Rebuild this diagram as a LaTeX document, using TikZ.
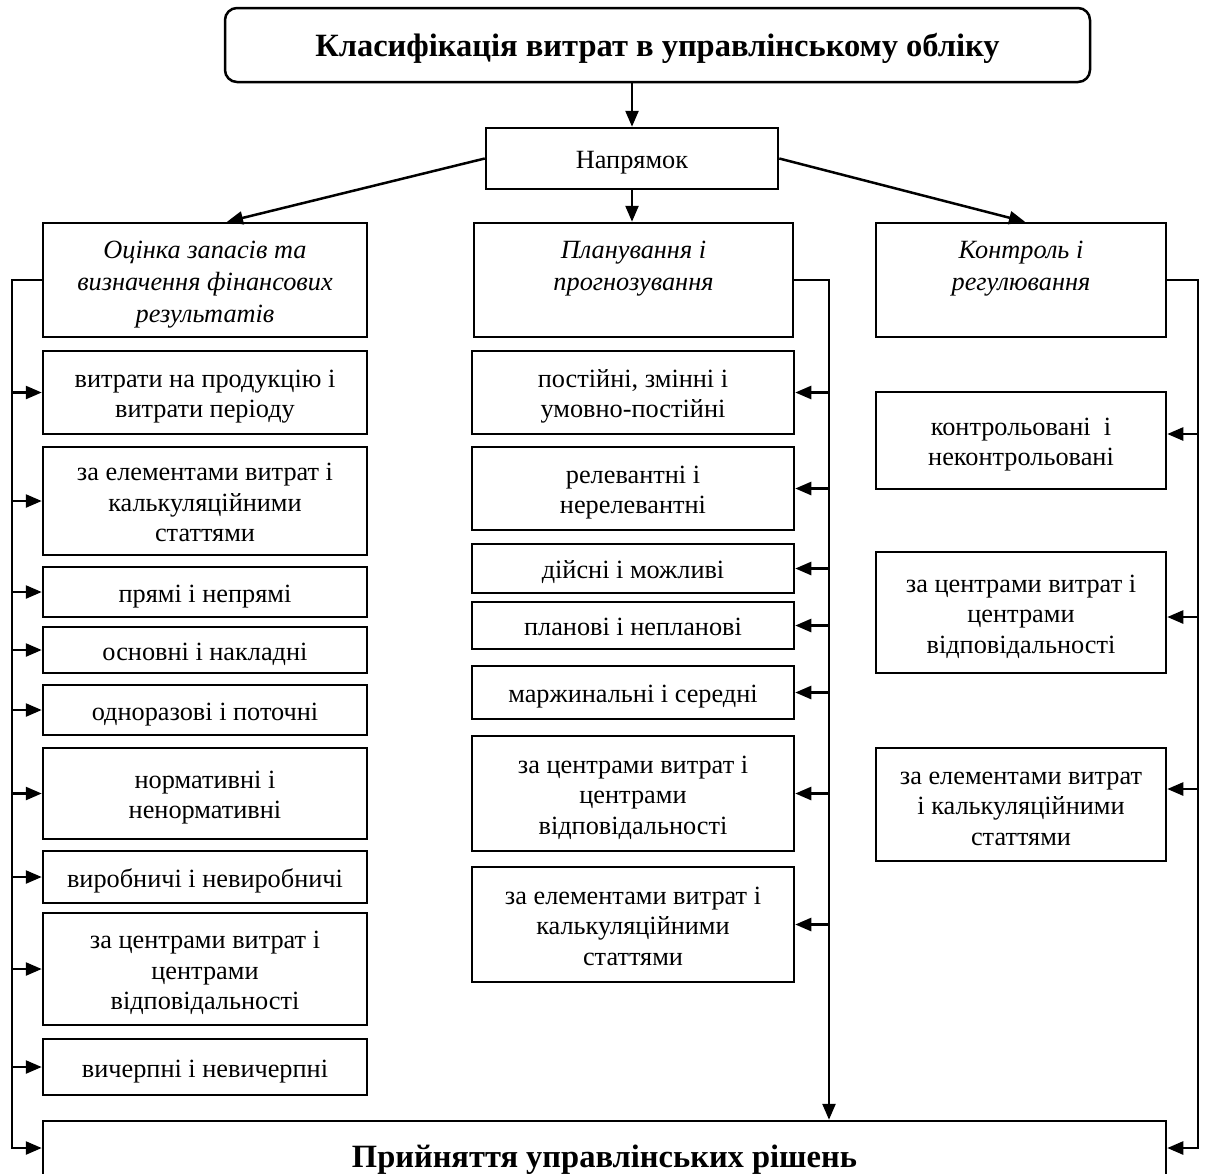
\documentclass[tikz,border=0pt]{standalone}
\usepackage{fontspec}
\setmainfont{Liberation Serif}
\usetikzlibrary{arrows.meta,calc}
\newcommand\boxtext[1]{\raisebox{0pt}[\dimexpr\height+8pt\relax][\depth]{\begin{tabular}{@{}c@{}}#1\end{tabular}}}
\begin{document}
\begin{tikzpicture}[x=1pt,y=-1pt,
  box/.style={draw, line width=2.5pt, rectangle, inner sep=0pt,
    font=\fontsize{26.3}{30.5}\selectfont},
  hbox/.style={box, font=\fontsize{26.3}{32}\selectfont\itshape},
  bigbox/.style={box, font=\fontsize{32.5}{38}\selectfont\bfseries},
  arr/.style={line width=2.5pt, -{Triangle[length=16pt,width=13pt]}}]
\useasboundingbox (0,0) rectangle (1209,1173);

% top
\node[bigbox, rounded corners=12pt, minimum width=865pt, minimum height=74pt] (top) at (657.5,45) {\boxtext{Класифікація витрат в управлінському обліку}};
\node[box, minimum width=292pt, minimum height=61pt] (nap) at (632,158.5) {\boxtext{Напрямок}};

% headers
\node[hbox, minimum width=324pt, minimum height=114pt] (h1) at (205,280) {\boxtext{Оцінка запасів та\\визначення фінансових\\результатів}};
\node[hbox, minimum width=319pt, minimum height=114pt] (h2) at (633.5,280) {\boxtext{Планування і\\прогнозування\\\mbox{}}};
\node[hbox, minimum width=290pt, minimum height=114pt] (h3) at (1021,280) {\boxtext{Контроль і\\регулювання\\\mbox{}}};

% left column
\node[box, minimum width=324pt, minimum height=83pt] (l1) at (205,392.5) {\boxtext{витрати на продукцію і\\витрати періоду}};
\node[box, minimum width=324pt, minimum height=108pt] (l2) at (205,501) {\boxtext{за елементами витрат і\\калькуляційними\\статтями}};
\node[box, minimum width=324pt, minimum height=50pt] (l3) at (205,592) {\boxtext{прямі і непрямі}};
\node[box, minimum width=324pt, minimum height=46pt] (l4) at (205,650) {\boxtext{основні і накладні}};
\node[box, minimum width=324pt, minimum height=50pt] (l5) at (205,710) {\boxtext{одноразові і поточні}};
\node[box, minimum width=324pt, minimum height=91pt] (l6) at (205,793.5) {\boxtext{нормативні і\\ненормативні}};
\node[box, minimum width=324pt, minimum height=52pt] (l7) at (205,877) {\boxtext{виробничі і невиробничі}};
\node[box, minimum width=324pt, minimum height=112pt] (l8) at (205,969) {\boxtext{за центрами витрат і\\центрами\\відповідальності}};
\node[box, minimum width=324pt, minimum height=56pt] (l9) at (205,1067) {\boxtext{вичерпні і невичерпні}};

% middle column
\node[box, minimum width=322pt, minimum height=83pt] (m1) at (633,392.5) {\boxtext{постійні, змінні і\\умовно-постійні}};
\node[box, minimum width=322pt, minimum height=83pt] (m2) at (633,488.5) {\boxtext{релевантні і\\нерелевантні}};
\node[box, minimum width=322pt, minimum height=49pt] (m3) at (633,568.5) {\boxtext{дійсні і можливі}};
\node[box, minimum width=322pt, minimum height=47pt] (m4) at (633,625.5) {\boxtext{планові і непланові}};
\node[box, minimum width=322pt, minimum height=53pt] (m5) at (633,692.5) {\boxtext{маржинальні і середні}};
\node[box, minimum width=322pt, minimum height=115pt] (m6) at (633,793.5) {\boxtext{за центрами витрат і\\центрами\\відповідальності}};
\node[box, minimum width=322pt, minimum height=115pt] (m7) at (633,924.5) {\boxtext{за елементами витрат і\\калькуляційними\\статтями}};

% right column
\node[box, minimum width=290pt, minimum height=97pt] (r1) at (1021,440.5) {\boxtext{контрольовані\ \ і\\неконтрольовані}};
\node[box, minimum width=290pt, minimum height=121pt] (r2) at (1021,612.5) {\boxtext{за центрами витрат і\\центрами\\відповідальності}};
\node[box, minimum width=290pt, minimum height=113pt] (r3) at (1021,804.5) {\boxtext{за елементами витрат\\і калькуляційними\\статтями}};

% bottom
\node[bigbox, minimum width=1123pt, minimum height=69pt] (bot) at (604.5,1155.5) {\boxtext{Прийняття управлінських рішень}};

% top connectors
\coordinate (tipL) at ($(h1.north)+(22,0)$);
\coordinate (tipR) at ($(h3.north)+(4,0)$);
\draw[arr] (nap.north |- top.south) -- (nap.north);
\draw[arr] (nap.west) -- (tipL);
\draw[arr] (nap.south) -- (nap.south |- h2.north);
\draw[arr] (nap.east) -- (tipR);

% left bus
\coordinate (lt) at (12,280);
\coordinate (lb) at (12,1148);
\draw[arr] (h1.west) -- (lt) -- (lb) -- (bot.west |- lb);
\foreach \n in {l1,l2,l3,l4,l5,l6,l7,l8,l9}
  \draw[arr] (lt |- \n.west) -- (\n.west);

% middle bus
\coordinate (mt) at (829,280);
\draw[arr] (h2.east) -- (mt) -- (mt |- bot.north);
\foreach \n in {m1,m2,m3,m4,m5,m6,m7}
  \draw[arr] (mt |- \n.east) -- (\n.east);

% right bus
\coordinate (rt) at (1198,280);
\coordinate (rb) at (1198,1148);
\draw[arr] (h3.east) -- (rt) -- (rb) -- (bot.east |- rb);
\coordinate (r1a) at ($(r1.east)+(0,-6.5)$);
\coordinate (r2a) at ($(r2.east)+(0,4.5)$);
\coordinate (r3a) at ($(r3.east)+(0,-15.5)$);
\foreach \n in {r1a,r2a,r3a}
  \draw[arr] (rt |- \n) -- (\n);
\end{tikzpicture}
\end{document}
